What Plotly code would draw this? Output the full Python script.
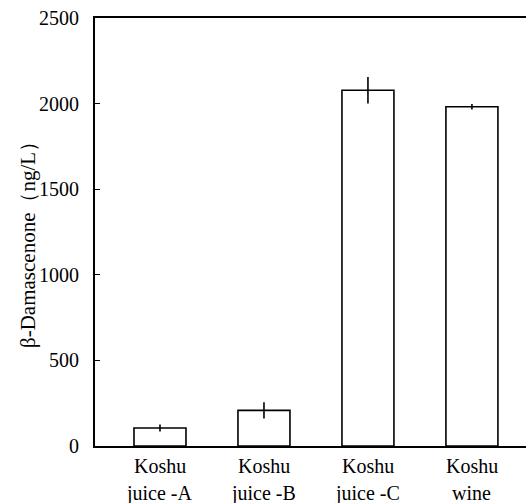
import plotly.graph_objects as go

line1 = ["Koshu", "Koshu", "Koshu", "Koshu"]
line2 = ["juice -A", "juice -B", "juice -C", "wine"]
values = [105, 208, 2078, 1982]
errors = [21, 48, 78, 16]
y_ticks = [0, 500, 1000, 1500, 2000, 2500]

FONT = "Liberation Serif"

fig = go.Figure()
fig.add_trace(go.Bar(
    x=list(range(len(line1))),
    y=values,
    width=0.5,
    marker=dict(color="white", line=dict(color="black", width=1.6)),
    error_y=dict(type="data", array=errors, visible=True, color="black", thickness=1.6, width=0),
))

annotations = []
for i in range(len(line1)):
    annotations.append(dict(x=i, y=0, xref="x", yref="paper", text=line1[i], showarrow=False,
                            yanchor="top", yshift=-7, font=dict(family=FONT, size=20, color="black")))
    annotations.append(dict(x=i, y=0, xref="x", yref="paper", text=line2[i], showarrow=False,
                            yanchor="top", yshift=-34, font=dict(family=FONT, size=20, color="black")))
annotations.append(dict(x=0, y=0.5, xref="paper", yref="paper", xshift=-67, yshift=-8, text="β-Damascenone（ng/L）",
                        textangle=-90, showarrow=False, xanchor="center", yanchor="middle",
                        font=dict(family=FONT, size=21, color="black")))

fig.update_layout(
    template="none",
    width=526, height=503,
    margin=dict(l=95, r=0, t=18, b=57),
    paper_bgcolor="white", plot_bgcolor="white",
    showlegend=False,
    font=dict(family=FONT, size=20, color="black"),
    annotations=annotations,
    xaxis=dict(range=[-0.625, 3.52], showticklabels=False, ticks="", showgrid=False, zeroline=False,
               showline=True, linecolor="black", linewidth=2, mirror=True, fixedrange=True),
    yaxis=dict(range=[0, 2500], tickvals=y_ticks, ticktext=[str(v) for v in y_ticks], ticks="inside", ticklen=5,
               tickwidth=1, tickcolor="black", showgrid=False, zeroline=False, showline=True, linecolor="black",
               linewidth=2, ticklabelstandoff=10, tickfont=dict(family=FONT, size=20, color="black"),
               fixedrange=True),
)

fig.write_html("out.html")
